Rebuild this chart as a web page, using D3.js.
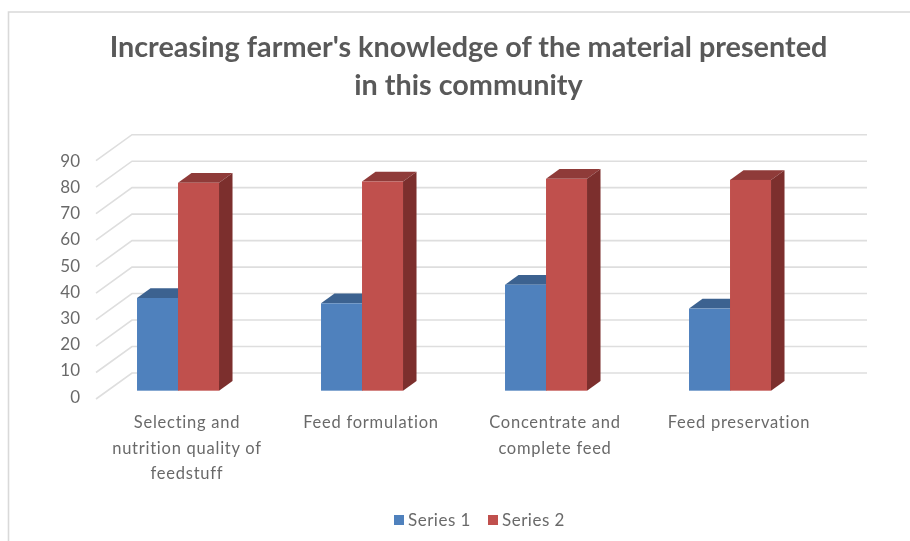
<!DOCTYPE html>
<html><head><meta charset="utf-8">
<script src="https://cdn.jsdelivr.net/npm/d3@7/dist/d3.min.js"></script>
<style>html,body{margin:0;padding:0;background:#fff}svg{display:block;filter:blur(0.45px)}text{font-family:Lato,"Open Sans",sans-serif;fill:#595959}</style>
</head><body><svg id="c" width="910" height="541"></svg>
<script>
const titleLines = ["Increasing farmer's knowledge of the material presented","in this community"];
const categories = ["Selecting and nutrition quality of feedstuff","Feed formulation","Concentrate and complete feed","Feed preservation"];
const categoryLines = [["Selecting and","nutrition quality of","feedstuff"],["Feed formulation"],["Concentrate and","complete feed"],["Feed preservation"]];
const seriesNames = ["Series 1","Series 2"];
const series1 = [35,33,40,31];
const series2 = [78.5,79,80,79.6];
const yTicks = [0,10,20,30,40,50,60,70,80,90];
const svg = d3.select("#c");
const colors = [{f:"#4f81bd",t:"#3c6290",s:"#385d8a"},{f:"#c0504d",t:"#8f3b39",s:"#7c2f2d"}];
// frame
svg.append("path").attr("d","M8.5,541V12H910").attr("fill","none").attr("stroke","#d9d9d9").attr("stroke-width",1.6);
// title
svg.selectAll("text.title").data(titleLines).join("text").attr("class","title")
 .attr("x",468.5).attr("y",(d,i)=>57+i*38).attr("text-anchor","middle")
 .attr("font-size",28.8).attr("font-weight",700).text(d=>d);
// scales (front plane of the floor)
const x = d3.scaleBand().domain(categories).range([96,832]);
const y = d3.scaleLinear().domain([0,90]).range([399,160.7]);
const yLabel = d3.scaleLinear().domain([0,90]).range([396.7,160.7]);
const depth = {x:36,y:-26};
const grid = svg.append("g");
yTicks.forEach(t=>{
  grid.append("path").attr("d",`M${x.range()[0]},${y(t)}L${x.range()[0]+depth.x},${y(t)+depth.y}H867`)
   .attr("fill","none").attr("stroke","#dedede").attr("stroke-width",1.6);
});
svg.selectAll("text.yt").data(yTicks).join("text").attr("class","yt")
 .attr("x",80).attr("y",d=>yLabel(d)+6).attr("text-anchor","end").attr("font-size",17).attr("fill-opacity",0.9).text(d=>d);
// bars
const barW = 41, gz = 0.32, bd = 0.375;
const ox = depth.x*gz, oy = depth.y*gz, dx = depth.x*bd, dy = depth.y*bd;
const bars = svg.append("g");
function bar(cat,v,k){
  const cx = x(cat)+x.bandwidth()/2 - 21.5 + ox;
  const x0 = cx - barW + k*barW, x1 = x0+barW;
  const yb = y(0)+oy, yt = y(v)+oy;
  const c = colors[k];
  bars.append("path").attr("d",`M${x0},${yt}L${x0+dx},${yt+dy}H${x1+dx}L${x1},${yt}Z`).attr("fill",c.t);
  bars.append("path").attr("d",`M${x1},${yt}L${x1+dx},${yt+dy}V${yb+dy}L${x1},${yb}Z`).attr("fill",c.s);
  bars.append("rect").attr("x",x0).attr("y",yt).attr("width",barW).attr("height",yb-yt).attr("fill",c.f);
}
categories.forEach((c,i)=>{bar(c,series1[i],0);bar(c,series2[i],1);});
// category labels
const lab = svg.append("g");
categories.forEach((c,i)=>{
  const cx = x(c)+x.bandwidth()/2 - 1;
  categoryLines[i].forEach((l,j)=>lab.append("text").attr("x",cx).attr("y",428+j*25.5).attr("text-anchor","middle").attr("font-size",16.5).attr("letter-spacing",0.75).attr("fill-opacity",0.9).text(l));
});
// legend
const lg = svg.append("g");
seriesNames.forEach((s,i)=>{
  const lx = 394+i*94;
  lg.append("rect").attr("x",lx).attr("y",515).attr("width",10).attr("height",10).attr("fill",colors[i].f);
  lg.append("text").attr("x",lx+14).attr("y",525.5).attr("font-size",17).attr("letter-spacing",0.5).attr("fill-opacity",0.9).text(s);
});
</script></body></html>
